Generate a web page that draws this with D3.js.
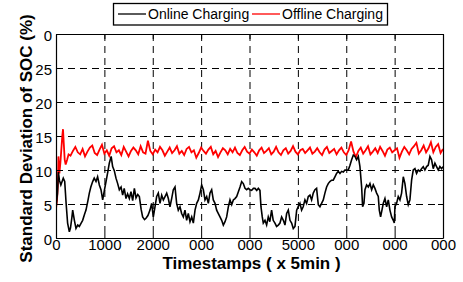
<!DOCTYPE html>
<html>
<head>
<meta charset="utf-8">
<script src="https://cdn.jsdelivr.net/npm/d3@7/dist/d3.min.js"></script>
<style>
  body { margin: 0; background: #fff; }
  text { font-family: "Liberation Sans", Arial, sans-serif; }
</style>
</head>
<body>
<div id="chart"></div>
<script>
// Chart Params
var svgWidth = 463;
var svgHeight = 282;

var margin = { top: 34, right: 20, bottom: 44, left: 56 };
var width = 443 - margin.left;
var height = 238 - margin.top;

// data
var xTicks = [0, 1000, 2000, 3000, 4000, 5000, 6000, 7000, 8000];
var xTickLabels = ["0", "1000", "2000", "000", "000", "5000", "000", "000", "000"];
var yTicks = [0, 5, 10, 15, 20, 25, 30];
var yTickLabels = ["0", "5", "10", "15", "20", "25", "0"];

var seriesNames = ["Online Charging", "Offline Charging"];
var seriesColors = ["#000000", "#ff0000"];

var onlineTime = [0, 30, 50, 70, 100, 150, 180, 210, 240, 276, 300, 330, 345, 380, 413, 450, 482, 520, 551, 590,
  620, 660, 689, 720, 758, 790, 827, 860, 896, 930, 965, 1000, 1034, 1070, 1102, 1140, 1171, 1205, 1240, 1275,
  1309, 1345, 1378, 1410, 1447, 1480, 1516, 1550, 1585, 1620, 1654, 1690, 1723, 1760, 1791, 1830, 1860, 1900,
  1943, 1977, 2012, 2047, 2081, 2115, 2150, 2185, 2219, 2254, 2288, 2322, 2356, 2391, 2425, 2460, 2494, 2528,
  2563, 2597, 2632, 2666, 2701, 2735, 2770, 2805, 2839, 2874, 2908, 2943, 2977, 3011, 3046, 3080, 3115, 3149,
  3183, 3218, 3252, 3287, 3321, 3356, 3390, 3425, 3459, 3494, 3528, 3563, 3597, 3632, 3666, 3700, 3735, 3770,
  3804, 3838, 3872, 3907, 3941, 3975, 4010, 4044, 4080, 4113, 4150, 4182, 4216, 4237, 4264, 4285, 4320, 4354,
  4388, 4420, 4457, 4490, 4526, 4560, 4595, 4630, 4664, 4700, 4733, 4768, 4802, 4837, 4871, 4905, 4940, 4975,
  5008, 5043, 5077, 5110, 5146, 5180, 5215, 5250, 5284, 5318, 5353, 5387, 5422, 5456, 5490, 5525, 5559, 5594,
  5628, 5662, 5697, 5731, 5766, 5800, 5835, 5870, 5904, 5939, 5973, 6008, 6042, 6077, 6111, 6146, 6180, 6214,
  6249, 6283, 6318, 6338, 6366, 6387, 6421, 6456, 6490, 6525, 6559, 6593, 6628, 6662, 6683, 6710, 6738, 6766,
  6800, 6835, 6869, 6903, 6938, 6972, 6993, 7007, 7041, 7075, 7110, 7144, 7179, 7213, 7248, 7282, 7316, 7351,
  7385, 7420, 7454, 7489, 7523, 7557, 7592, 7626, 7661, 7695, 7730, 7764, 7798, 7833, 7867, 7902, 7936, 7970, 8000];
var onlineSoc = [4.5, 6.5, 9.7, 8.5, 7.8, 8.8, 8.3, 5.0, 2.2, 0.9, 1.5, 3.1, 4.1, 2.6, 1.4, 1.9, 1.7, 2.2, 2.6, 3.5,
  4.1, 5.5, 6.6, 7.5, 8.3, 8.8, 8.3, 9.0, 7.8, 7.1, 5.6, 7.0, 8.3, 9.7, 11.0, 12.0, 10.5, 9.9, 8.8, 8.0,
  7.1, 7.5, 6.3, 7.3, 5.8, 6.5, 5.8, 6.8, 5.5, 7.3, 5.9, 6.4, 6.1, 4.2, 3.1, 2.7, 2.9, 3.3,
  4.1, 5.1, 3.1, 4.6, 6.1, 6.6, 5.1, 6.3, 5.6, 6.1, 6.6, 5.8, 4.6, 5.8, 7.1, 7.5, 5.1, 4.1,
  4.6, 3.6, 3.1, 4.1, 2.6, 3.6, 2.4, 3.1, 2.2, 4.1, 5.1, 5.6, 6.6, 7.8, 7.1, 5.6, 6.1, 5.1,
  6.6, 7.1, 5.6, 5.1, 4.1, 3.6, 3.1, 2.6, 1.9, 2.4, 3.1, 4.6, 5.6, 4.9, 5.6, 5.8, 6.1, 6.8,
  7.5, 8.3, 8.0, 7.3, 7.1, 7.3, 7.1, 7.0, 7.3, 7.3, 7.0, 7.3, 7.0, 4.6, 3.1, 2.2, 2.6, 1.9,
  3.1, 2.4, 4.1, 2.6, 2.2, 1.7, 1.9, 2.2, 3.1, 2.6, 1.9, 3.6, 4.1, 2.6, 2.2, 1.4, 1.7, 4.1,
  4.6, 5.1, 4.1, 4.6, 5.6, 5.1, 6.1, 6.3, 5.6, 6.6, 7.1, 7.3, 4.9, 4.6, 5.1, 5.6, 6.6, 7.5,
  8.0, 8.3, 8.5, 8.5, 9.0, 9.5, 9.8, 9.5, 9.8, 9.7, 10.0, 10.0, 10.0, 10.7, 11.5, 12.2, 12.0, 11.5,
  12.0, 10.5, 7.5, 4.6, 5.1, 7.1, 7.8, 7.5, 8.0, 7.1, 7.8, 7.3, 6.6, 6.1, 4.1, 3.1, 4.1, 5.1,
  5.8, 4.6, 5.6, 4.1, 3.1, 2.6, 2.2, 4.6, 5.1, 6.1, 5.6, 6.6, 9.0, 8.0, 6.1, 4.9, 5.6, 8.5,
  10.0, 10.2, 9.5, 10.0, 9.8, 10.2, 10.5, 10.0, 10.5, 10.7, 12.0, 11.5, 10.2, 11.0, 10.5, 10.0, 10.5, 10.2, 10.5];

var offlineTime = [0, 20, 40, 50, 60, 70, 90, 110, 130, 145, 160, 180, 200, 230, 260, 300,
  350, 400, 450, 500, 550, 600, 650, 700, 750, 800, 850, 900, 950, 1000, 1050, 1100, 1150, 1200,
  1250, 1300, 1350, 1400, 1450, 1500, 1550, 1600, 1650, 1700, 1750, 1800, 1850, 1900, 1950, 2000,
  2050, 2100, 2150, 2200, 2250, 2300, 2350, 2400, 2450, 2500, 2550, 2600, 2650, 2700, 2750, 2800,
  2850, 2900, 2950, 3000, 3050, 3100, 3150, 3200, 3250, 3300, 3350, 3400, 3450, 3500, 3550, 3600,
  3650, 3700, 3750, 3800, 3850, 3900, 3950, 4000, 4050, 4100, 4150, 4200, 4250, 4300, 4350, 4400,
  4450, 4500, 4550, 4600, 4650, 4700, 4750, 4800, 4850, 4900, 4950, 5000, 5050, 5100, 5150, 5200,
  5250, 5300, 5350, 5400, 5450, 5500, 5550, 5600, 5650, 5700, 5750, 5800, 5850, 5900, 5950, 6000,
  6050, 6100, 6150, 6200, 6250, 6300, 6350, 6400, 6450, 6500, 6550, 6600, 6650, 6700, 6750, 6800,
  6850, 6900, 6950, 7000, 7050, 7100, 7150, 7200, 7250, 7300, 7350, 7400, 7450, 7500, 7550, 7600,
  7650, 7700, 7750, 7800, 7850, 7900, 7950, 8000];
var offlineSoc = [4.3, 5.5, 8.0, 12.0, 10.5, 9.5, 11.0, 13.0, 15.0, 16.0, 14.0, 11.5, 10.8, 11.5, 12.3, 12.1,
  12.8, 13.4, 12.6, 12.3, 13.1, 12.0, 12.7, 13.3, 13.6, 12.5,
  12.2, 13.0, 13.7, 12.4, 12.9, 12.1, 13.2, 13.5, 12.6, 12.9,
  12.2, 13.4, 12.7, 12.0, 12.8, 13.3, 12.9, 12.3, 13.5, 12.6,
  12.4, 14.3, 12.8, 12.3, 13.0, 12.6, 13.4, 12.9, 12.1, 12.7,
  13.3, 12.5, 12.9, 13.5, 12.4, 12.8, 12.2, 13.1, 13.4, 12.6,
  12.9, 11.8, 12.5, 13.3, 12.8, 12.4, 13.0, 13.4, 12.3, 12.8,
  11.9, 12.6, 13.2, 12.9, 12.3, 13.1, 12.6, 13.3, 12.5, 12.2,
  12.9, 13.4, 12.7, 12.4, 13.0, 12.6, 12.1, 12.9, 13.3, 12.5,
  12.8, 13.2, 12.3, 12.7, 13.4, 12.6, 12.2, 12.9, 13.2, 12.4,
  12.8, 13.5, 12.7, 12.3, 12.9, 13.1, 12.5, 12.9, 13.3, 12.4,
  12.7, 13.2, 12.6, 12.2, 13.0, 13.4, 12.5, 12.8, 13.1, 12.3,
  12.9, 13.3, 12.6, 12.2, 12.9, 14.2, 12.7, 11.9, 12.8, 13.3,
  12.4, 12.9, 13.5, 12.3, 12.7, 13.2, 12.5, 13.4, 12.8, 12.1,
  13.0, 13.3, 12.6, 12.9, 13.2, 11.8, 12.7, 13.4, 12.9, 12.3,
  13.1, 13.5, 14.0, 12.4, 12.9, 13.6, 12.6, 13.2, 14.1, 12.6,
  13.4, 13.8, 12.5, 13.1];

var svg = d3.select("#chart")
  .append("svg")
  .attr("width", svgWidth)
  .attr("height", svgHeight);

var chartGroup = svg.append("g")
  .attr("transform", `translate(${margin.left}, ${margin.top})`);

var x = d3.scaleLinear().domain([0, 8000]).range([0, width]);
var y = d3.scaleLinear().domain([0, 30]).range([height, 0]);

// dashed grid
chartGroup.append("g")
  .attr("class", "grid")
  .call(d3.axisBottom(x).tickValues(xTicks).tickSize(height).tickFormat(""))
  .call(g => g.select(".domain").remove());
chartGroup.append("g")
  .attr("class", "grid")
  .call(d3.axisLeft(y).tickValues(yTicks).tickSize(-width).tickFormat(""))
  .call(g => g.select(".domain").remove());
chartGroup.selectAll(".grid line")
  .attr("stroke", "#000")
  .attr("stroke-width", 1)
  .attr("stroke-dasharray", "7,5");

// lines
chartGroup.append("clipPath").attr("id", "clip")
  .append("rect").attr("width", width).attr("height", height);

var line = d3.line()
  .x(d => x(d[0]))
  .y(d => y(d[1]));

var online = onlineTime.map((t, i) => [t, onlineSoc[i]]);
var offline = offlineTime.map((t, i) => [t, offlineSoc[i]]);

chartGroup.append("path")
  .datum(offline)
  .attr("clip-path", "url(#clip)")
  .attr("fill", "none")
  .attr("stroke", seriesColors[1])
  .attr("stroke-width", 1.8)
  .attr("d", line);

chartGroup.append("path")
  .datum(online)
  .attr("clip-path", "url(#clip)")
  .attr("fill", "none")
  .attr("stroke", seriesColors[0])
  .attr("stroke-width", 1.6)
  .attr("d", line);

// axes with inward ticks
var bottomAxis = d3.axisBottom(x).tickValues(xTicks).tickSizeInner(-5).tickSizeOuter(0)
  .tickPadding(1).tickFormat((d, i) => xTickLabels[i]);
var leftAxis = d3.axisLeft(y).tickValues(yTicks).tickSizeInner(-5).tickSizeOuter(0)
  .tickPadding(4).tickFormat((d, i) => yTickLabels[i]);

var xAxis = chartGroup.append("g")
  .attr("transform", `translate(0, ${height})`)
  .call(bottomAxis);
var yAxis = chartGroup.append("g")
  .call(leftAxis);
chartGroup.append("g")
  .call(d3.axisTop(x).tickValues(xTicks).tickSizeInner(-5).tickSizeOuter(0).tickFormat(""));
chartGroup.append("g")
  .attr("transform", `translate(${width}, 0)`)
  .call(d3.axisRight(y).tickValues(yTicks).tickSizeInner(-5).tickSizeOuter(0).tickFormat(""));

chartGroup.selectAll(".tick text")
  .attr("font-family", "Liberation Sans, Arial, sans-serif")
  .attr("font-size", "15px")
  .attr("fill", "#000");
yAxis.selectAll(".tick text").attr("dy", "0.42em");
chartGroup.selectAll(".domain").attr("stroke", "#000").attr("stroke-width", 1.2);

// axis labels
chartGroup.append("text")
  .attr("x", width / 2 + 2)
  .attr("y", height + 31)
  .attr("text-anchor", "middle")
  .attr("font-size", "17px")
  .attr("font-weight", "bold")
  .text("Timestamps ( x 5min )");

chartGroup.append("text")
  .attr("transform", "rotate(-90)")
  .attr("x", -(height / 2) - 2.5)
  .attr("y", -24)
  .attr("text-anchor", "middle")
  .attr("font-size", "17px")
  .attr("font-weight", "bold")
  .text("Standard Deviation of SOC (%)");

// legend
var legend = svg.append("g");
legend.append("rect")
  .attr("x", 113.5).attr("y", 3.5)
  .attr("width", 274).attr("height", 21.5)
  .attr("fill", "#fff")
  .attr("stroke", "#000")
  .attr("stroke-width", 1.3);
var legendX = [118, 252];
seriesNames.forEach(function(name, i) {
  legend.append("line")
    .attr("x1", legendX[i]).attr("x2", legendX[i] + 28)
    .attr("y1", 14).attr("y2", 14)
    .attr("stroke", seriesColors[i])
    .attr("stroke-width", 1.3);
  legend.append("text")
    .attr("x", legendX[i] + 30)
    .attr("y", 19)
    .attr("font-size", "14px")
    .text(name);
});
</script>
</body>
</html>
